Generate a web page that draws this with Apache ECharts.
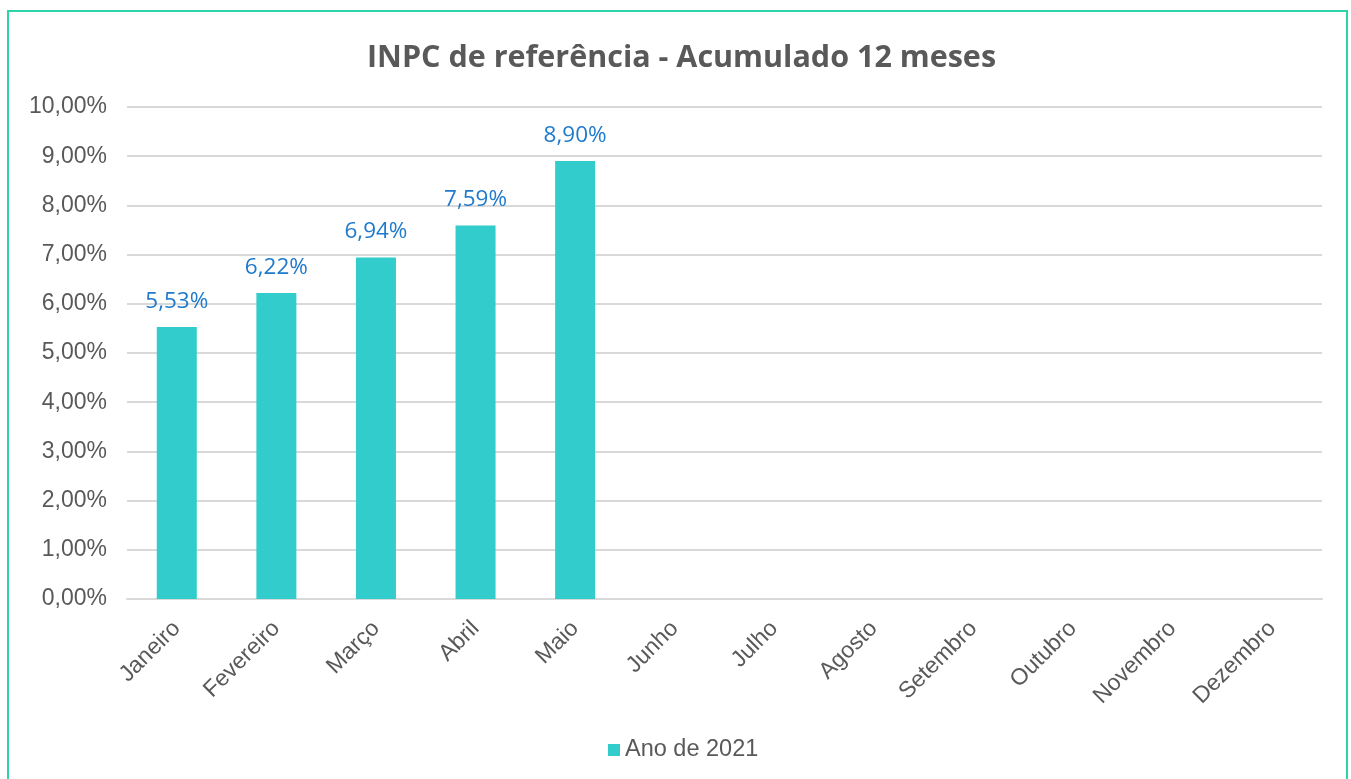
<!DOCTYPE html>
<html>
<head>
<meta charset="utf-8">
<script src="https://cdn.jsdelivr.net/npm/echarts@6/dist/echarts.min.js"></script>
<style>
html,body{margin:0;padding:0;background:#fff;width:1351px;height:779px;overflow:hidden;}
#frame{position:absolute;left:7px;top:10px;width:1341px;height:800px;border:2px solid #2ed3a8;box-sizing:border-box;}
#chart{position:absolute;left:0;top:0;width:1351px;height:779px;}
</style>
</head>
<body>
<div id="frame"></div>
<div id="chart"></div>
<script>
const categories = ['Janeiro','Fevereiro','Março','Abril','Maio','Junho','Julho','Agosto','Setembro','Outubro','Novembro','Dezembro'];
const values = [5.53, 6.22, 6.94, 7.59, 8.90, null, null, null, null, null, null, null];
const seriesName = 'Ano de 2021';
const titleText = 'INPC de referência - Acumulado 12 meses';

const fmt = v => v.toFixed(2).replace('.', ',') + '%';

const chart = echarts.init(document.getElementById('chart'));
chart.setOption({
  animation: false,
  title: {
    text: titleText,
    left: 362,
    top: 38,
    textStyle: {fontFamily: 'Open Sans', fontWeight: 'bold', fontSize: 30.5, color: '#595959'}
  },
  legend: {
    data: [seriesName],
    bottom: 12,
    left: 603,
    icon: 'rect',
    itemWidth: 12,
    itemHeight: 12,
    itemGap: 6,
    textStyle: {fontFamily: 'Liberation Sans', fontSize: 23.5, color: '#595959'}
  },
  grid: {left: 127, right: 29, top: 107, bottom: 180, containLabel: false},
  xAxis: {
    type: 'category',
    data: categories,
    axisLine: {lineStyle: {color: '#d9d9d9', width: 2}},
    axisTick: {show: false},
    axisLabel: {rotate: 45, interval: 0, margin: 26, fontFamily: 'Liberation Sans', fontSize: 23, color: '#595959'}
  },
  yAxis: {
    type: 'value',
    min: 0, max: 10, interval: 1,
    axisLine: {show: false},
    axisTick: {show: false},
    splitLine: {lineStyle: {color: '#d9d9d9', width: 2}},
    axisLabel: {margin: 20, fontFamily: 'Liberation Sans', fontSize: 23, color: '#595959', formatter: v => fmt(v)}
  },
  series: [{
    name: seriesName,
    type: 'bar',
    data: values,
    barWidth: 40,
    itemStyle: {color: '#33cccc'},
    label: {
      show: true,
      position: 'top',
      distance: 14,
      fontFamily: 'Open Sans',
      fontSize: 22.5,
      color: '#1f7acc',
      formatter: p => p.value == null ? '' : fmt(p.value)
    }
  }]
});
</script>
</body>
</html>
